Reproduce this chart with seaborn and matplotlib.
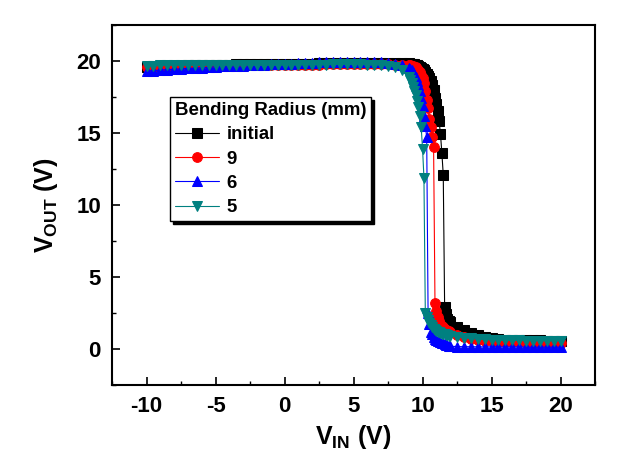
import seaborn as sns
import matplotlib.pyplot as plt
from matplotlib.ticker import MultipleLocator

# input sweep (V)
vin = [-10, -9.5, -9, -8.5, -8, -7.5, -7, -6.5, -6, -5.5,
       -5, -4.5, -4, -3.5, -3, -2.5, -2, -1.5, -1, -0.5,
       0, 0.5, 1, 1.5, 2, 2.5, 3, 3.5, 4, 4.5,
       5, 5.5, 6, 6.5, 7, 7.5, 8, 8.5, 9.0,
       9.1, 9.2, 9.3, 9.4, 9.5, 9.6, 9.7, 9.8, 9.9, 10.0,
       10.1, 10.2, 10.3, 10.4, 10.5, 10.6, 10.7, 10.8, 10.9, 11.0,
       11.1, 11.2, 11.3, 11.4, 11.5, 11.6, 11.7, 11.8, 11.9, 12.0,
       12.5, 13, 13.5, 14, 14.5, 15, 15.5, 16, 16.5, 17,
       17.5, 18, 18.5, 19, 19.5, 20]

# output voltage for each bending radius
vout_initial = [19.6, 19.62, 19.64, 19.65, 19.66, 19.68, 19.7, 19.7, 19.72, 19.72,
                19.74, 19.74, 19.75, 19.76, 19.76, 19.77, 19.78, 19.78, 19.79, 19.8,
                19.8, 19.8, 19.81, 19.82, 19.82, 19.83, 19.84, 19.84, 19.85, 19.85,
                19.85, 19.86, 19.86, 19.86, 19.86, 19.86, 19.86, 19.85, 19.84,
                19.82, 19.8, 19.78, 19.76, 19.73, 19.7, 19.65, 19.6, 19.52, 19.45,
                19.35, 19.25, 19.12, 18.98, 18.82, 18.62, 18.35, 17.95, 17.45, 17.0,
                16.5, 15.8, 14.9, 13.6, 12.1, 2.9, 2.4, 2.1, 1.95, 1.85,
                1.55, 1.3, 1.12, 0.98, 0.85, 0.75, 0.68, 0.64, 0.62, 0.6,
                0.6, 0.59, 0.59, 0.58, 0.58, 0.58]
vout_9 = [19.55, 19.57, 19.58, 19.6, 19.6, 19.62, 19.63, 19.64, 19.65, 19.66,
          19.67, 19.68, 19.68, 19.69, 19.7, 19.7, 19.71, 19.72, 19.72, 19.73,
          19.73, 19.74, 19.74, 19.75, 19.75, 19.75, 19.76, 19.76, 19.76, 19.76,
          19.76, 19.76, 19.76, 19.76, 19.76, 19.76, 19.75, 19.75, 19.72,
          19.7, 19.68, 19.65, 19.6, 19.55, 19.45, 19.35, 19.2, 19.0, 18.8,
          18.5, 17.9, 17.3, 16.7, 16.0, 15.4, 14.7, 14.0, 3.2, 2.6,
          2.2, 1.95, 1.75, 1.6, 1.5, 1.4, 1.32, 1.26, 1.22, 1.18,
          0.95, 0.8, 0.7, 0.62, 0.56, 0.52, 0.5, 0.48, 0.46, 0.45,
          0.44, 0.43, 0.42, 0.42, 0.41, 0.4]
vout_6 = [19.3, 19.33, 19.36, 19.4, 19.42, 19.45, 19.48, 19.5, 19.53, 19.56,
          19.6, 19.62, 19.64, 19.66, 19.68, 19.7, 19.72, 19.74, 19.76, 19.78,
          19.8, 19.82, 19.84, 19.86, 19.88, 19.9, 19.92, 19.94, 19.95, 19.96,
          19.96, 19.96, 19.95, 19.94, 19.92, 19.88, 19.82, 19.7, 19.5,
          19.45, 19.35, 19.2, 19.0, 18.85, 18.6, 18.3, 17.9, 17.4, 16.9,
          16.2, 15.5, 14.7, 2.5, 1.7, 1.2, 1.0, 0.8, 0.7, 0.62,
          0.56, 0.52, 0.48, 0.42, 0.38, 0.33, 0.28, 0.24, 0.2, 0.18,
          0.16, 0.15, 0.15, 0.14, 0.14, 0.14, 0.13, 0.13, 0.13, 0.13,
          0.12, 0.12, 0.12, 0.12, 0.12, 0.12]
vout_5 = [19.65, 19.65, 19.7, 19.7, 19.7, 19.7, 19.7, 19.7, 19.7, 19.7,
          19.7, 19.7, 19.7, 19.7, 19.7, 19.7, 19.7, 19.7, 19.7, 19.7,
          19.72, 19.72, 19.72, 19.74, 19.75, 19.75, 19.75, 19.76, 19.76, 19.76,
          19.76, 19.76, 19.75, 19.74, 19.72, 19.68, 19.6, 19.4, 18.9,
          18.7, 18.5, 18.2, 17.9, 17.6, 17.2, 16.8, 16.2, 15.4, 13.9,
          11.9, 2.5, 2.2, 2.0, 1.8, 1.65, 1.5, 1.4, 1.3, 1.25,
          1.2, 1.15, 1.1, 1.05, 1.02, 1.0, 0.97, 0.95, 0.92, 0.9,
          0.85, 0.78, 0.72, 0.68, 0.65, 0.62, 0.6, 0.6, 0.59, 0.59,
          0.58, 0.58, 0.58, 0.57, 0.57, 0.57]

labels = ['initial', '9', '6', '5']
colors = ['black', 'red', 'blue', '#008080']
markers = ['s', 'o', '^', 'v']

sns.set_style('ticks')
plt.rcParams['font.family'] = ['Liberation Sans', 'DejaVu Sans']
plt.rcParams['font.weight'] = 'bold'
plt.rcParams['text.color'] = 'black'
plt.rcParams['axes.labelcolor'] = 'black'
plt.rcParams['xtick.color'] = 'black'
plt.rcParams['ytick.color'] = 'black'
plt.rcParams['axes.unicode_minus'] = False
plt.rcParams['mathtext.fontset'] = 'custom'
plt.rcParams['mathtext.rm'] = 'Liberation Sans:bold'
plt.rcParams['mathtext.it'] = 'Liberation Sans:bold'
plt.rcParams['mathtext.bf'] = 'Liberation Sans:bold'

fig = plt.figure(figsize=(6.44, 4.62), dpi=100)
ax = fig.add_axes([0.174, 0.167, 0.75, 0.779])

for lab, ys, c, m in zip(labels, [vout_initial, vout_9, vout_6, vout_5], colors, markers):
    sns.lineplot(x=vin, y=ys, color=c, marker=m, markersize=7, markeredgecolor=c,
                 linewidth=0.8, label=lab, ax=ax, estimator=None, sort=False)

ax.set_xlim(-12.5, 22.5)
ax.set_ylim(-2.5, 22.5)
ax.xaxis.set_major_locator(MultipleLocator(5))
ax.xaxis.set_minor_locator(MultipleLocator(2.5))
ax.yaxis.set_major_locator(MultipleLocator(5))
ax.yaxis.set_minor_locator(MultipleLocator(2.5))
ax.tick_params(which='major', direction='in', length=6, width=1.2, labelsize=16, pad=8,
               colors='black')
ax.tick_params(which='minor', direction='in', length=3, width=1.0, colors='black')
ax.tick_params(top=False, right=False, which='both')
for t in ax.get_xticklabels() + ax.get_yticklabels():
    t.set_fontweight('bold')
for s in ax.spines.values():
    s.set_linewidth(1.5)
    s.set_color('black')

ax.set_xlabel(r'$\mathbf{V_{IN}}$ (V)', fontsize=18, fontweight='bold', labelpad=4)
ax.set_ylabel(r'$\mathbf{V_{OUT}}$ (V)', fontsize=18, fontweight='bold', labelpad=12)

leg = ax.legend(title='Bending Radius (mm)', loc='upper left', bbox_to_anchor=(0.12, 0.80),
                frameon=True, fancybox=False, shadow={'color': 'black', 'alpha': 1},
                edgecolor='black', framealpha=1, fontsize=13.4, alignment='left',
                title_fontproperties={'weight': 'bold', 'size': 13.4},
                handlelength=2.4, labelspacing=0.4, borderpad=0.25,
                handletextpad=0.4, borderaxespad=0)
leg.get_frame().set_linewidth(1.0)

plt.savefig('out.png', dpi=100)
